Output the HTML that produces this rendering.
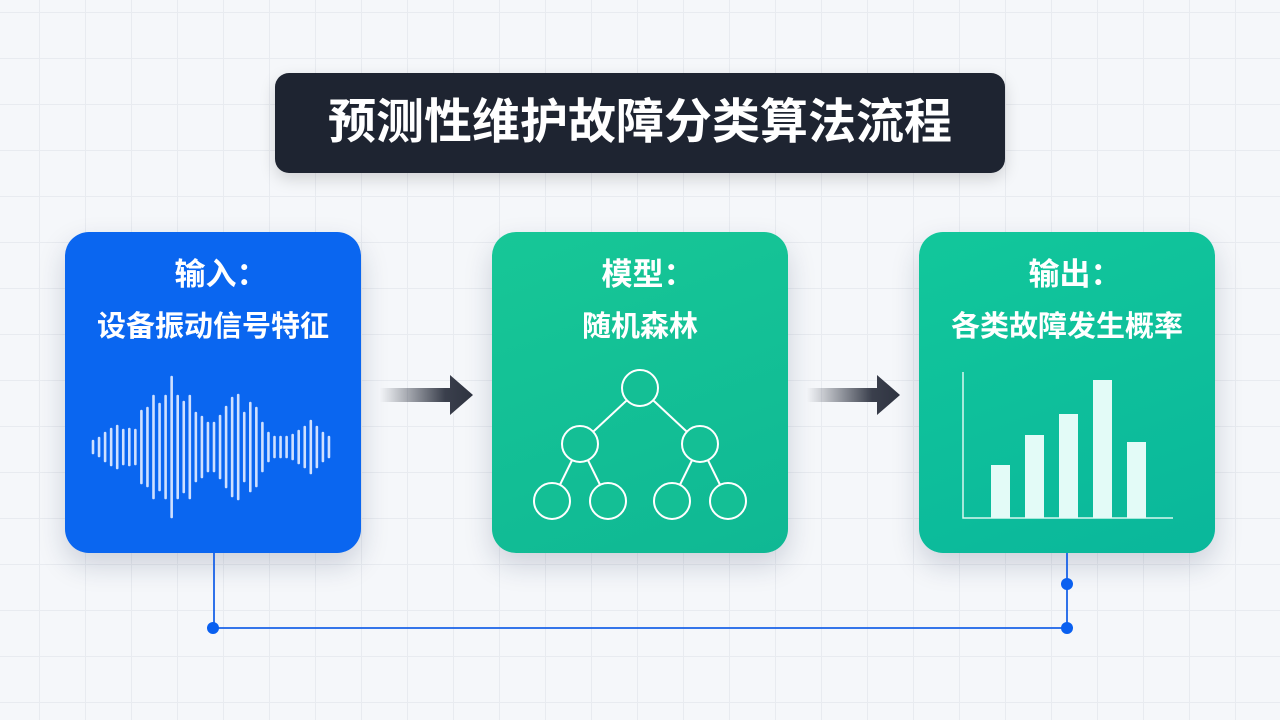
<!DOCTYPE html>
<html><head><meta charset="utf-8"><style>
html,body{margin:0;padding:0}
body{width:1280px;height:720px;position:relative;overflow:hidden;background:#f5f7fa;
background-image:linear-gradient(#e8ebf0 1px,transparent 1px),linear-gradient(90deg,#e8ebf0 1px,transparent 1px);
background-size:46px 46px;background-position:-7px 12px;
font-family:"Liberation Sans","Noto Sans CJK SC",sans-serif}
.title{position:absolute;left:275px;top:73px;width:730px;height:100px;background:#1e2431;border-radius:14px;color:#fff;font-size:48px;font-weight:bold;text-align:center;line-height:100px;box-shadow:0 6px 16px rgba(0,0,0,.15)}
.box{position:absolute;top:232px;width:296px;height:321px;border-radius:24px;color:#fff;text-align:center;box-shadow:0 12px 28px rgba(20,40,80,.18)}
.b1{left:65px;background:#0a66f0}
.b2{left:492px;background:linear-gradient(160deg,#17c797,#0fb894)}
.b3{left:919px;background:linear-gradient(160deg,#12c79b,#0ab79b)}
.l1{position:absolute;top:24px;left:16px;right:0;font-size:31px;font-weight:bold;line-height:38px}
.l2{position:absolute;top:77px;width:100%;font-size:29px;font-weight:bold;line-height:36px}
svg{position:absolute;left:0;top:0}
</style></head><body>
<div class="title">预测性维护故障分类算法流程</div>
<div class="box b1"><div class="l1">输入：</div><div class="l2">设备振动信号特征</div></div>
<div class="box b2"><div class="l1">模型：</div><div class="l2">随机森林</div></div>
<div class="box b3"><div class="l1">输出：</div><div class="l2">各类故障发生概率</div></div>
<svg width="1280" height="720">
<defs>
<linearGradient id="ag" x1="0" x2="1"><stop offset="0" stop-color="#3a3f4c" stop-opacity="0"/><stop offset="0.7" stop-color="#3a3f4c"/><stop offset="1" stop-color="#2e3340"/></linearGradient>
</defs>
<g fill="url(#ag)">
<path d="M380 388 H450 V375 L473 395 L450 415 V402 H380 Z"/>
<path d="M807 388 H877 V375 L900 395 L877 415 V402 H807 Z"/>
</g>
<g stroke="#cfe0ff" stroke-width="2.6" stroke-linecap="round" id="wave"></g>
<g fill="none" stroke="#fff" stroke-width="2">
<line x1="640" y1="388" x2="580" y2="444"/><line x1="640" y1="388" x2="700" y2="444"/>
<line x1="580" y1="444" x2="552" y2="501"/><line x1="580" y1="444" x2="608" y2="501"/>
<line x1="700" y1="444" x2="672" y2="501"/><line x1="700" y1="444" x2="728" y2="501"/>
</g>
<g fill="#14bf95" stroke="#fff" stroke-width="2">
<circle cx="640" cy="388" r="18"/><circle cx="580" cy="444" r="18"/><circle cx="700" cy="444" r="18"/>
<circle cx="552" cy="501" r="18"/><circle cx="608" cy="501" r="18"/><circle cx="672" cy="501" r="18"/><circle cx="728" cy="501" r="18"/>
</g>
<g stroke="#d8f7f0" stroke-width="1.5" fill="none"><path d="M963 372 V518 H1173"/></g>
<g fill="#e3fbf7">
<rect x="991" y="465" width="19" height="53"/><rect x="1025" y="435" width="19" height="83"/>
<rect x="1059" y="414" width="19" height="104"/><rect x="1093" y="380" width="19" height="138"/>
<rect x="1127" y="442" width="19" height="76"/>
</g>
<path d="M214 553 V628 H1067 V553" fill="none" stroke="#1a63e8" stroke-width="1.8"/>
<g fill="#0a60f0"><circle cx="213" cy="628" r="6"/><circle cx="1067" cy="628" r="6"/><circle cx="1067" cy="584" r="6"/></g>
</svg>
<script>
var h=[6,9,14,18,21,17,18,17,36,39,51,43,51,70,51,45,51,34,30,24,24,31,40,49,52,34,44,39,24,14,10,10,10,12,16,20,26,20,14,10];
var g=document.getElementById('wave'),s='';
for(var i=0;i<h.length;i++){var x=93+i*6.05;s+='<line x1="'+x+'" x2="'+x+'" y1="'+(447-h[i])+'" y2="'+(447+h[i])+'"/>';}
g.innerHTML=s;
</script>
</body></html>
